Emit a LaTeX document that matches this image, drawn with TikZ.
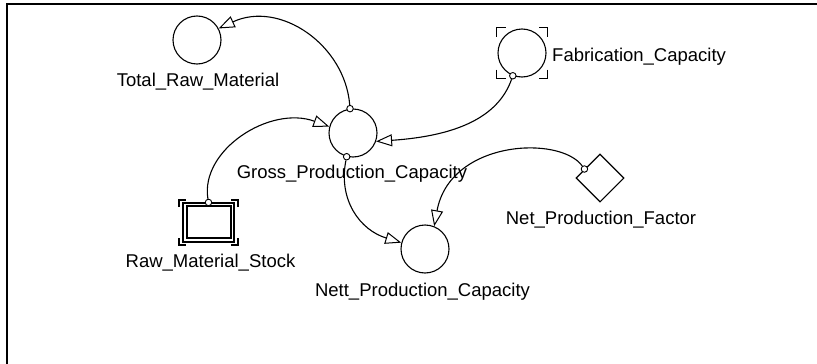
\documentclass[tikz,border=0pt]{standalone}
\usepackage{fontspec}
\setmainfont{Liberation Sans}
\usetikzlibrary{arrows.meta,shapes.geometric}
\tikzset{
  conv/.style={circle,draw,line width=1.1pt,minimum size=48pt,inner sep=0pt},
  tag/.style={anchor=base,inner sep=0pt,font=\fontsize{18.5pt}{20pt}\selectfont},
  tap/.style={circle,draw,fill=white,line width=0.9pt,minimum size=6.5pt,inner sep=0pt},
  link/.style={line width=1.1pt,-{Triangle[open,length=16pt,width=12pt,line width=1pt]}},
  brk/.style={line width=1.1pt}
}
\begin{document}
\begin{tikzpicture}[x=1pt,y=-1pt]
\useasboundingbox (0,0) rectangle (817,364);
% window frame: top and left edges only
\draw[line width=2pt] (817,3.5) -- (6.5,3.5) -- (6.5,364);

% converters
\node[conv] (tot) at (197,40) {};
\node[conv] (gpc) at (353,133) {};
\node[conv] (fab) at (522,53) {};
\node[conv] (npc) at (425,249) {};
\node[diamond,draw,line width=1.1pt,minimum size=48pt,inner sep=0pt] (npf) at (600,178) {};

% corner brackets around the fabrication capacity
\foreach \sx/\sy in {-1/-1,1/-1,1/1,-1/1}{
  \draw[brk] ({522+\sx*25.5},{53+\sy*25.5-\sy*9}) -- ({522+\sx*25.5},{53+\sy*25.5}) -- ({522+\sx*25.5-\sx*9},{53+\sy*25.5});
}

% stock: double rectangle with corner brackets
\node[draw,line width=1.1pt,minimum width=51pt,minimum height=39pt,inner sep=0pt] (rms) at (208.5,222.5) {};
\draw[line width=1.1pt] (187,206) rectangle (231,238);
\foreach \sx/\sy in {-1/-1,1/-1,1/1,-1/1}{
  \draw[brk] ({208.5+\sx*29.5},{222.5+\sy*22.5-\sy*7}) -- ({208.5+\sx*29.5},{222.5+\sy*22.5}) -- ({208.5+\sx*29.5-\sx*7},{222.5+\sy*22.5});
}

% labels
\node[tag] (ltot) at (198,86) {Total\_Raw\_Material};
\node[tag] (lgpc) at (352,178) {Gross\_Production\_Capacity};
\node[tag,anchor=base west] (lfab) at (552,61) {Fabrication\_Capacity};
\node[tag] (lrms) at (210.5,267) {Raw\_Material\_Stock};
\node[tag] (lnpc) at (422.5,296) {Nett\_Production\_Capacity};
\node[tag] (lnpf) at (601,224) {Net\_Production\_Factor};

% connector origins
\node[tap] (t1) at (gpc.97) {};
\node[tap] (t2) at (rms.north) {};
\node[tap] (t3) at (fab.248) {};
\node[tap] (t4) at (gpc.255) {};
\node[tap] (t5) at (npf.150) {};

% connectors
\draw[link] (t1) .. controls (345,45) and (280,0) .. (tot.28);
\draw[link] (t2) .. controls (200,150) and (270,105) .. (gpc.165);
\draw[link] (t3) .. controls (498,118) and (455,136) .. (gpc.-20);
\draw[link] (t4) .. controls (338,200) and (360,230) .. (npc.165);
\draw[link] (t5) .. controls (560,135) and (450,140) .. (npc.68);
\end{tikzpicture}
\end{document}
